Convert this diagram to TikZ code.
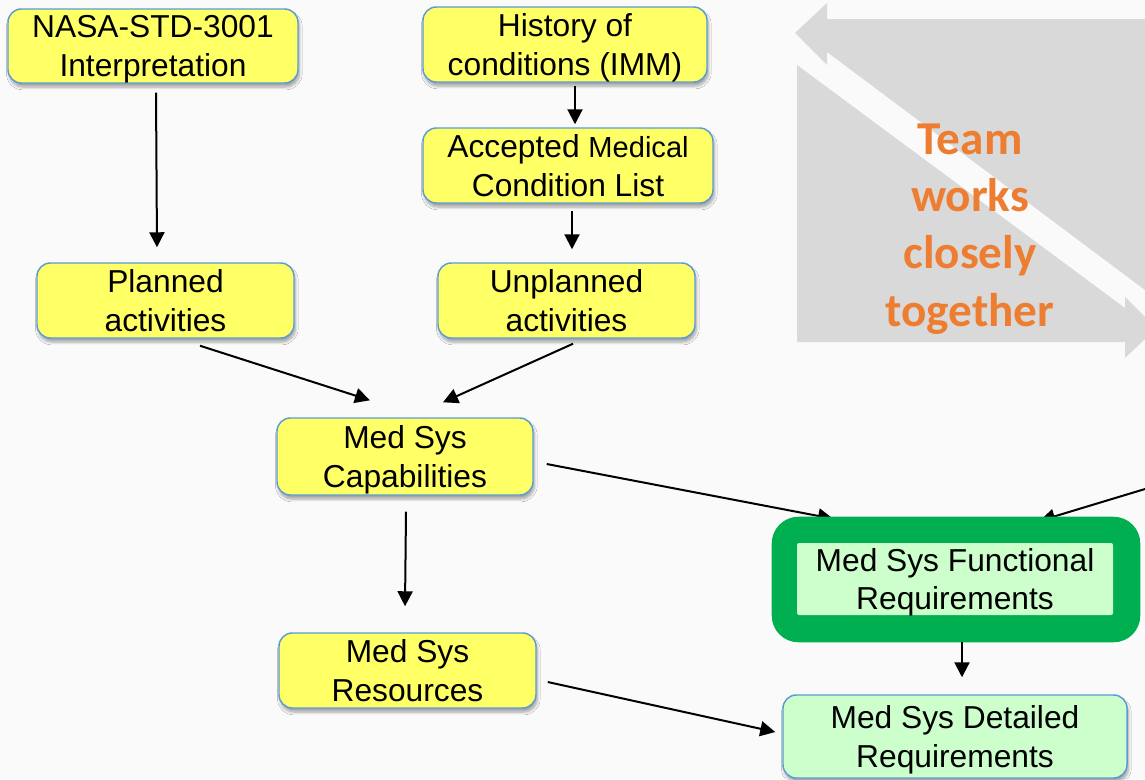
\documentclass[tikz,border=0pt]{standalone}
\usepackage{fontspec}
\setmainfont{Liberation Sans}
\newfontfamily\calib{Carlito}
\usetikzlibrary{arrows.meta,calc,shadows.blur}

\definecolor{pagebg}{RGB}{250,250,250}
\definecolor{boxyellow}{RGB}{255,255,102}
\definecolor{boxblue}{RGB}{91,155,213}
\definecolor{boxgreen}{RGB}{204,255,204}
\definecolor{darkgreen}{RGB}{0,176,80}
\definecolor{panelgray}{RGB}{217,217,217}
\definecolor{teamorange}{RGB}{237,125,49}

% a line whose descenders do not count towards its depth
\newcommand{\flatline}[1]{\raisebox{0pt}[\height][0pt]{#1}}

\begin{document}
\begin{tikzpicture}[x=0.75pt,y=-0.75pt,
  boxtext/.style={align=center, font=\fontsize{23.8}{28.9}\selectfont},
  box/.style={boxtext, draw=boxblue, line width=1.1pt, rounded corners=10pt, inner sep=0pt,
    blur shadow={shadow xshift=1pt, shadow yshift=-3pt, shadow blur steps=6, shadow opacity=35}},
  ybox/.style={box, fill=boxyellow},
  gbox/.style={box, fill=boxgreen},
  link/.style={line width=1.5pt, -{Triangle[length=11.25pt,width=11.25pt]}},
]
\useasboundingbox (0,0) rectangle (1145,779);

% background and the two grey arrow panels
\fill[pagebg] (0,0) rectangle (1145,779);
\begin{scope}
  \clip (0,0) rectangle (1145,779);
  \fill[panelgray] (827,3) -- (795,33) -- (827,65) -- (827,52) -- (1145,290)
    -- (1145,19) -- (827,19) -- cycle;
  \fill[panelgray] (797,65) -- (1125,308) -- (1125,297) -- (1145,317) -- (1145,339)
    -- (1125,358) -- (1125,342) -- (797,342) -- cycle;
\end{scope}

\node[font=\calib\bfseries\fontsize{35.4}{43}\selectfont, text=teamorange, align=center]
  (team) at (970,229) {Team\\works\\closely\\together};

% boxes
\node[ybox, minimum width=217.5pt, minimum height=55.5pt] (nasa) at (153,46)
  {NASA-STD-3001\\\flatline{Interpretation}};
\node[ybox, minimum width=213pt, minimum height=56.25pt] (hist) at (565,44.5)
  {History of\\\flatline{conditions (IMM)}};
\node[ybox, minimum width=217.5pt, minimum height=56.25pt] (acc) at (568,165.5)
  {Accepted {\fontsize{21.8}{28.9}\selectfont Medical}\\Condition List};
\node[ybox, minimum width=192.75pt, minimum height=56.25pt] (plan) at (165.5,300.5)
  {Planned\\activities};
\node[ybox, minimum width=192.75pt, minimum height=56.25pt] (unpl) at (566.5,300.5)
  {Unplanned\\activities};
\node[ybox, minimum width=192pt, minimum height=57.75pt] (cap) at (405,456.5)
  {Med Sys\\\flatline{Capabilities}};
\node[ybox, minimum width=192.75pt, minimum height=56.25pt] (res) at (407.5,670.5)
  {Med Sys\\Resources};
\node[gbox, minimum width=258pt, minimum height=62.25pt] (det) at (955,736.5)
  {Med Sys Detailed\\\flatline{Requirements}};

% outline of the functional-requirements frame (filled after its incoming connectors)
\node[minimum width=276pt, minimum height=93.75pt, inner sep=0pt] (funcouter) at (956,579.5) {};
\coordinate (ext) at (1145,489);

% connectors that run under the frame
\draw[link] ($(cap.east)+(13,7.5)$) -- ($(funcouter.north)+(-123,2)$);
\draw[link] (ext) -- ($(funcouter.north)+(84,4)$);

\fill[darkgreen, rounded corners=20pt] (funcouter.north west) rectangle (funcouter.south east);
\node[boxtext, fill=boxgreen, rounded corners=1.5pt, minimum width=237pt,
  minimum height=54pt, inner sep=0pt] (func) at (955,579)
  {Med Sys Functional\\\flatline{Requirements}};

% connectors
\draw[link] ($(nasa.south)+(3,9)$) -- ($(plan.north)+(-8.5,-15)$);
\draw[link] ($(hist.south)+(10,3)$) -- ($(acc.north)+(7,-3)$);
\draw[link] ($(acc.south)+(4,7)$) -- ($(unpl.north)+(5.5,-13)$);
\draw[link] ($(plan.south)+(34.5,7)$) -- ($(cap.north)+(-35,-17)$);
\draw[link] ($(unpl.south)+(6.5,5)$) -- ($(cap.north)+(38,-15)$);
\draw[link] ($(cap.south)+(1,16)$) -- ($(res.north)+(-2.5,-26)$);
\draw[link] ($(funcouter.south)+(6,0)$) -- ($(det.north)+(7,-17)$);
\draw[link] ($(res.east)+(11,11.5)$) -- ($(det.west)+(-7,-4.5)$);
\end{tikzpicture}
\end{document}
